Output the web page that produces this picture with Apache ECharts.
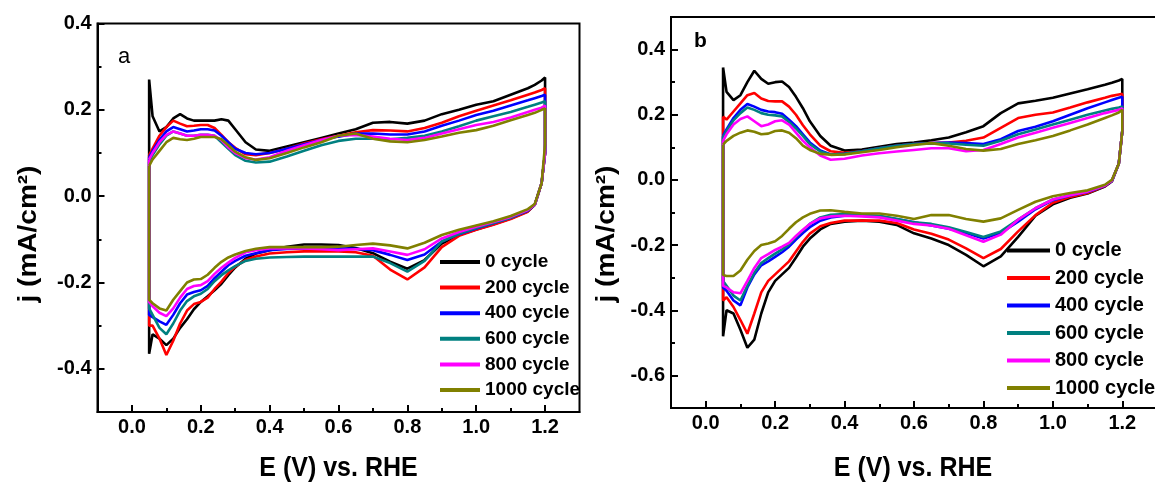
<!DOCTYPE html>
<html><head><meta charset="utf-8">
<script src="https://cdn.jsdelivr.net/npm/echarts@6/dist/echarts.min.js"></script>
<style>html,body{margin:0;padding:0;background:#fff;overflow:hidden}#c{width:1160px;height:484px}</style>
</head><body><div id="c"></div><script>
// Potential grid (V vs. RHE) shared by both branches
const E = [0.05,0.06,0.08,0.1,0.12,0.14,0.16,0.18,0.2,0.22,0.24,0.26,0.28,0.3,0.33,0.36,0.4,0.45,0.5,0.55,0.6,0.65,0.7,0.75,0.8,0.85,0.9,0.95,1.0,1.05,1.1,1.15,1.17,1.19,1.2];
const cycles = ['0 cycle','200 cycle','400 cycle','600 cycle','800 cycle','1000 cycle'];
const colors = ['#000000','#ff0000','#0000ff','#008080','#ff00ff','#808000'];

// Panel a, anodic (upper) branch
const aUp0    = [0.27,0.185,0.15,0.16,0.18,0.19,0.18,0.175,0.175,0.175,0.175,0.178,0.175,0.155,0.125,0.108,0.105,0.115,0.125,0.135,0.145,0.155,0.17,0.172,0.168,0.175,0.19,0.2,0.212,0.22,0.235,0.25,0.258,0.268,0.275];
const aUp200  = [0.095,0.11,0.14,0.16,0.175,0.168,0.162,0.163,0.165,0.165,0.158,0.142,0.125,0.112,0.097,0.095,0.1,0.11,0.122,0.132,0.14,0.148,0.153,0.152,0.15,0.158,0.17,0.185,0.198,0.21,0.222,0.235,0.24,0.246,0.25];
const aUp400  = [0.09,0.105,0.13,0.15,0.16,0.155,0.15,0.152,0.155,0.155,0.152,0.14,0.125,0.11,0.1,0.097,0.1,0.11,0.12,0.13,0.138,0.145,0.145,0.143,0.143,0.15,0.163,0.175,0.188,0.198,0.21,0.222,0.227,0.232,0.235];
const aUp600  = [0.08,0.095,0.12,0.14,0.15,0.145,0.14,0.14,0.142,0.142,0.14,0.125,0.11,0.095,0.082,0.078,0.08,0.092,0.105,0.118,0.128,0.133,0.133,0.132,0.135,0.14,0.15,0.162,0.175,0.185,0.195,0.207,0.212,0.217,0.22];
const aUp800  = [0.085,0.1,0.125,0.142,0.15,0.145,0.14,0.14,0.142,0.142,0.14,0.13,0.113,0.1,0.088,0.085,0.09,0.105,0.118,0.13,0.14,0.142,0.138,0.133,0.13,0.135,0.145,0.155,0.165,0.172,0.182,0.195,0.2,0.205,0.21];
const aUp1000 = [0.07,0.085,0.105,0.125,0.135,0.132,0.13,0.133,0.137,0.137,0.137,0.132,0.118,0.103,0.09,0.084,0.088,0.1,0.113,0.125,0.14,0.145,0.133,0.127,0.125,0.13,0.138,0.147,0.153,0.163,0.176,0.188,0.193,0.2,0.203];
// Panel a, cathodic (lower) branch, listed at the same potentials
const aLo0    = [-0.365,-0.32,-0.33,-0.345,-0.33,-0.305,-0.285,-0.262,-0.245,-0.232,-0.218,-0.203,-0.183,-0.165,-0.145,-0.133,-0.125,-0.117,-0.112,-0.112,-0.113,-0.12,-0.132,-0.152,-0.168,-0.148,-0.11,-0.09,-0.077,-0.065,-0.052,-0.035,-0.02,0.03,0.1];
const aLo200  = [-0.3,-0.3,-0.33,-0.368,-0.335,-0.295,-0.265,-0.25,-0.245,-0.235,-0.215,-0.198,-0.178,-0.163,-0.148,-0.14,-0.133,-0.13,-0.128,-0.128,-0.128,-0.13,-0.138,-0.17,-0.193,-0.165,-0.118,-0.092,-0.078,-0.066,-0.053,-0.036,-0.02,0.03,0.1];
const aLo400  = [-0.275,-0.28,-0.29,-0.298,-0.275,-0.248,-0.228,-0.222,-0.218,-0.208,-0.19,-0.175,-0.16,-0.15,-0.138,-0.132,-0.125,-0.122,-0.121,-0.121,-0.121,-0.122,-0.125,-0.136,-0.148,-0.135,-0.105,-0.088,-0.075,-0.063,-0.05,-0.034,-0.02,0.03,0.1];
const aLo600  = [-0.26,-0.275,-0.305,-0.32,-0.295,-0.265,-0.243,-0.232,-0.226,-0.215,-0.197,-0.183,-0.172,-0.162,-0.15,-0.145,-0.142,-0.141,-0.14,-0.14,-0.14,-0.14,-0.14,-0.155,-0.175,-0.15,-0.105,-0.087,-0.074,-0.062,-0.05,-0.033,-0.02,0.03,0.1];
const aLo800  = [-0.245,-0.255,-0.27,-0.278,-0.26,-0.235,-0.215,-0.208,-0.206,-0.197,-0.18,-0.166,-0.154,-0.143,-0.13,-0.125,-0.121,-0.121,-0.121,-0.123,-0.125,-0.123,-0.121,-0.128,-0.136,-0.123,-0.098,-0.083,-0.071,-0.06,-0.048,-0.032,-0.02,0.03,0.1];
const aLo1000 = [-0.24,-0.248,-0.26,-0.265,-0.24,-0.22,-0.2,-0.193,-0.192,-0.182,-0.166,-0.152,-0.142,-0.135,-0.127,-0.122,-0.118,-0.118,-0.118,-0.118,-0.117,-0.113,-0.11,-0.114,-0.121,-0.108,-0.09,-0.078,-0.068,-0.058,-0.046,-0.03,-0.018,0.03,0.12];

// Panel b, anodic branch
const bUp0    = [0.345,0.27,0.245,0.26,0.3,0.335,0.31,0.295,0.3,0.302,0.285,0.255,0.22,0.18,0.135,0.105,0.09,0.093,0.102,0.11,0.115,0.122,0.13,0.146,0.165,0.205,0.235,0.243,0.252,0.265,0.278,0.292,0.298,0.305,0.31];
const bUp200  = [0.195,0.185,0.21,0.235,0.26,0.267,0.25,0.242,0.241,0.241,0.225,0.2,0.168,0.14,0.105,0.088,0.083,0.088,0.097,0.105,0.11,0.113,0.115,0.12,0.13,0.16,0.19,0.2,0.207,0.222,0.238,0.252,0.258,0.262,0.264];
const bUp400  = [0.135,0.155,0.19,0.215,0.233,0.225,0.215,0.21,0.208,0.203,0.185,0.165,0.14,0.115,0.09,0.078,0.08,0.088,0.097,0.105,0.11,0.113,0.115,0.113,0.11,0.125,0.15,0.163,0.18,0.2,0.22,0.238,0.245,0.252,0.255];
const bUp600  = [0.13,0.15,0.183,0.205,0.222,0.215,0.205,0.2,0.198,0.195,0.178,0.158,0.135,0.11,0.087,0.078,0.08,0.088,0.097,0.105,0.11,0.112,0.112,0.108,0.105,0.12,0.14,0.155,0.17,0.185,0.2,0.213,0.218,0.222,0.225];
const bUp800  = [0.12,0.14,0.17,0.187,0.195,0.18,0.165,0.17,0.18,0.183,0.17,0.145,0.12,0.1,0.075,0.062,0.065,0.075,0.082,0.087,0.092,0.097,0.097,0.088,0.092,0.11,0.13,0.145,0.16,0.175,0.19,0.205,0.21,0.215,0.22];
const bUp1000 = [0.108,0.12,0.135,0.145,0.152,0.148,0.14,0.142,0.15,0.152,0.145,0.128,0.105,0.092,0.08,0.077,0.078,0.085,0.092,0.1,0.107,0.113,0.105,0.095,0.09,0.095,0.11,0.122,0.135,0.152,0.17,0.19,0.198,0.207,0.215];
// Panel b, cathodic branch
const bLo0    = [-0.48,-0.4,-0.41,-0.46,-0.515,-0.49,-0.41,-0.345,-0.31,-0.29,-0.27,-0.238,-0.205,-0.18,-0.152,-0.135,-0.128,-0.125,-0.128,-0.138,-0.164,-0.18,-0.2,-0.23,-0.265,-0.235,-0.175,-0.11,-0.075,-0.055,-0.042,-0.02,-0.005,0.05,0.15];
const bLo200  = [-0.37,-0.36,-0.39,-0.43,-0.472,-0.41,-0.345,-0.31,-0.29,-0.27,-0.25,-0.22,-0.19,-0.165,-0.142,-0.132,-0.125,-0.125,-0.125,-0.132,-0.152,-0.165,-0.183,-0.21,-0.24,-0.212,-0.158,-0.108,-0.07,-0.052,-0.04,-0.019,-0.003,0.05,0.15];
const bLo400  = [-0.33,-0.34,-0.37,-0.385,-0.33,-0.29,-0.262,-0.25,-0.236,-0.222,-0.205,-0.183,-0.163,-0.145,-0.125,-0.115,-0.11,-0.11,-0.112,-0.12,-0.13,-0.14,-0.15,-0.163,-0.18,-0.163,-0.128,-0.09,-0.062,-0.048,-0.037,-0.018,-0.003,0.05,0.15];
const bLo600  = [-0.31,-0.325,-0.355,-0.37,-0.325,-0.285,-0.255,-0.24,-0.226,-0.213,-0.198,-0.175,-0.155,-0.135,-0.115,-0.107,-0.105,-0.107,-0.11,-0.12,-0.13,-0.135,-0.145,-0.16,-0.175,-0.158,-0.122,-0.087,-0.06,-0.047,-0.036,-0.017,-0.002,0.05,0.15];
const bLo800  = [-0.325,-0.33,-0.345,-0.348,-0.31,-0.27,-0.24,-0.228,-0.215,-0.205,-0.193,-0.172,-0.153,-0.135,-0.118,-0.112,-0.11,-0.112,-0.115,-0.125,-0.135,-0.14,-0.15,-0.17,-0.19,-0.168,-0.122,-0.087,-0.06,-0.047,-0.036,-0.017,-0.002,0.05,0.15];
const bLo1000 = [-0.292,-0.295,-0.295,-0.278,-0.245,-0.218,-0.2,-0.195,-0.188,-0.172,-0.15,-0.13,-0.115,-0.104,-0.094,-0.093,-0.098,-0.103,-0.103,-0.11,-0.12,-0.108,-0.108,-0.12,-0.128,-0.118,-0.092,-0.067,-0.05,-0.04,-0.032,-0.015,0,0.05,0.15];

// Tick positions
const xMajor = [0,0.2,0.4,0.6,0.8,1.0,1.2];
const xMinor = [0.1,0.3,0.5,0.7,0.9,1.1];
const yMajorA = [-0.4,-0.2,0,0.2,0.4];
const yMinorA = [-0.3,-0.1,0.1,0.3];
const yMajorB = [-0.6,-0.4,-0.2,0,0.2,0.4];
const yMinorB = [-0.5,-0.3,-0.1,0.1,0.3];

const FONT = '"Liberation Sans", Arial, sans-serif';
const fmt = v => (Math.abs(v) < 1e-9 ? '0.0' : v.toFixed(1));

function loop(up, lo) {
  const d = [];
  for (let i = 0; i < E.length; i++) d.push([E[i], up[i]]);
  for (let i = E.length - 1; i >= 0; i--) d.push([E[i], lo[i]]);
  d.push([E[0], up[0]]);
  return d;
}
const panelA = [[aUp0,aLo0],[aUp200,aLo200],[aUp400,aLo400],[aUp600,aLo600],[aUp800,aLo800],[aUp1000,aLo1000]];
const panelB = [[bUp0,bLo0],[bUp200,bLo200],[bUp400,bLo400],[bUp600,bLo600],[bUp800,bLo800],[bUp1000,bLo1000]];

function xAxes(grid) {
  return [
    { gridIndex: grid, type: 'value', min: -0.1, max: 1.3, position: 'bottom',
      axisLine: { show: true, onZero: false, lineStyle: { color: '#000', width: 2 } },
      axisTick: { show: true, inside: true, length: 7, customValues: xMajor, lineStyle: { color: '#000', width: 2 } },
      axisLabel: { customValues: xMajor, formatter: fmt, color: '#000', fontSize: 20, fontWeight: 'bold', fontFamily: FONT, margin: 5 },
      splitLine: { show: false } },
    { gridIndex: grid, type: 'value', min: -0.1, max: 1.3, position: 'bottom',
      axisLine: { show: false, onZero: false },
      axisTick: { show: true, inside: true, length: 4, customValues: xMinor, lineStyle: { color: '#000', width: 2 } },
      axisLabel: { show: false }, splitLine: { show: false } }
  ];
}
function yAxes(grid, min, max, major, minor) {
  return [
    { gridIndex: grid, type: 'value', min: min, max: max, position: 'left',
      axisLine: { show: true, onZero: false, lineStyle: { color: '#000', width: 2 } },
      axisTick: { show: true, inside: true, length: 7, customValues: major, lineStyle: { color: '#000', width: 2 } },
      axisLabel: { customValues: major, formatter: fmt, color: '#000', fontSize: 20, fontWeight: 'bold', fontFamily: FONT, margin: 6 },
      splitLine: { show: false } },
    { gridIndex: grid, type: 'value', min: min, max: max, position: 'left',
      axisLine: { show: false, onZero: false },
      axisTick: { show: true, inside: true, length: 4, customValues: minor, lineStyle: { color: '#000', width: 2 } },
      axisLabel: { show: false }, splitLine: { show: false } }
  ];
}

const series = [];
panelA.forEach((p, i) => series.push({
  name: cycles[i], type: 'line', xAxisIndex: 0, yAxisIndex: 0, data: loop(p[0], p[1]),
  showSymbol: false, symbol: 'none', color: colors[i], lineStyle: { width: 2.6, color: colors[i] }, z: 2 + i
}));
panelB.forEach((p, i) => series.push({
  name: cycles[i], type: 'line', xAxisIndex: 2, yAxisIndex: 2, data: loop(p[0], p[1]),
  showSymbol: false, symbol: 'none', color: colors[i], lineStyle: { width: 2.6, color: colors[i] }, z: 2 + i
}));

const legendBase = {
  orient: 'vertical', icon: 'rect', selectedMode: false, data: cycles,
  padding: 0
};

const chart = echarts.init(document.getElementById('c'), null, { renderer: 'canvas' });
chart.setOption({
  animation: false,
  backgroundColor: '#fff',
  grid: [
    { left: 97.5, top: 23.5, width: 482, height: 388.5, show: true, borderColor: '#000', borderWidth: 2, containLabel: false },
    { left: 671, top: 17, width: 486, height: 391, show: true, borderColor: '#000', borderWidth: 2, containLabel: false }
  ],
  xAxis: [...xAxes(0), ...xAxes(1)],
  yAxis: [...yAxes(0, -0.5, 0.4, yMajorA, yMinorA), ...yAxes(1, -0.7, 0.5, yMajorB, yMinorB)],
  legend: [
    Object.assign({}, legendBase, { left: 440, top: 251, itemWidth: 40, itemHeight: 4, itemGap: 3.6,
      textStyle: { fontSize: 19, fontWeight: 'bold', color: '#000', fontFamily: FONT, lineHeight: 22 } }),
    Object.assign({}, legendBase, { left: 1007, top: 238.5, itemWidth: 43, itemHeight: 4, itemGap: 3.5,
      textStyle: { fontSize: 20, fontWeight: 'bold', color: '#000', fontFamily: FONT, lineHeight: 24 } })
  ],
  graphic: [
    { type: 'text', x: 118, y: 57, style: { text: 'a', font: '22px ' + FONT, fill: '#000', align: 'left', verticalAlign: 'middle' } },
    { type: 'text', x: 694, y: 41, style: { text: 'b', font: 'bold 21px ' + FONT, fill: '#000', align: 'left', verticalAlign: 'middle' } },
    { type: 'text', x: 338.5, y: 468, scaleY: 1.1, style: { text: 'E (V) vs. RHE', font: 'bold 25px ' + FONT, fill: '#000', align: 'center', verticalAlign: 'middle' } },
    { type: 'text', x: 913, y: 468, scaleY: 1.1, style: { text: 'E (V) vs. RHE', font: 'bold 25px ' + FONT, fill: '#000', align: 'center', verticalAlign: 'middle' } },
    { type: 'text', x: 29, y: 234, rotation: Math.PI / 2, scaleX: 1.12, style: { text: 'j (mA/cm²)', font: 'bold 25px ' + FONT, fill: '#000', align: 'center', verticalAlign: 'middle' } },
    { type: 'text', x: 607, y: 234, rotation: Math.PI / 2, scaleX: 1.12, style: { text: 'j (mA/cm²)', font: 'bold 25px ' + FONT, fill: '#000', align: 'center', verticalAlign: 'middle' } }
  ],
  series: series
});
</script></body></html>
